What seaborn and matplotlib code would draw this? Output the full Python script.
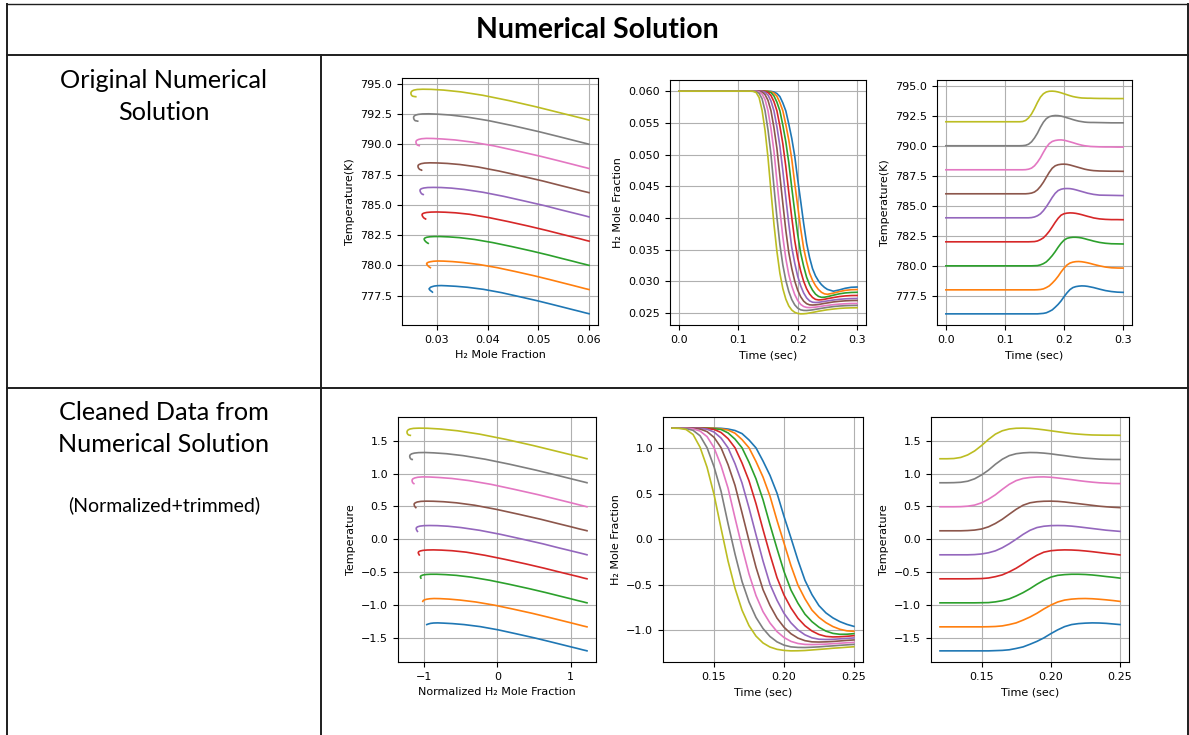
import numpy as np
import pandas as pd
import matplotlib
matplotlib.use("Agg")
import matplotlib.pyplot as plt
import seaborn as sns
from matplotlib.lines import Line2D

# ---------------- data ----------------
time_s = [0.0, 0.12, 0.125, 0.13, 0.135, 0.14, 0.145, 0.15, 0.155, 0.16, 0.165,
          0.17, 0.175, 0.18, 0.185, 0.19, 0.195, 0.20, 0.205, 0.21, 0.215, 0.22,
          0.225, 0.23, 0.235, 0.24, 0.245, 0.25, 0.26, 0.27, 0.28, 0.29, 0.30]

run_ids = ["run1", "run2", "run3", "run4", "run5", "run6", "run7", "run8", "run9"]

# normalized H2 mole fraction (as in the cleaned panels), one list per run
h2_norm_run1 = [1.22, 1.22, 1.22, 1.22, 1.22, 1.22, 1.22, 1.22, 1.218, 1.21, 1.194, 1.16, 1.09, 1.003,
                0.859, 0.701, 0.506, 0.251, 0.013, -0.232, -0.452, -0.609, -0.73, -0.81, -0.865,
                -0.906, -0.936, -0.958, -0.978, -0.964, -0.946, -0.935, -0.932]
h2_norm_run2 = [1.22, 1.22, 1.22, 1.22, 1.22, 1.22, 1.22, 1.219, 1.212, 1.199, 1.164, 1.094, 1.004,
                0.853, 0.683, 0.473, 0.207, -0.042, -0.291, -0.505, -0.655, -0.779, -0.859, -0.917,
                -0.96, -0.99, -1.007, -1.012, -0.999, -0.982, -0.969, -0.962, -0.96]
h2_norm_run3 = [1.22, 1.22, 1.22, 1.22, 1.22, 1.22, 1.219, 1.214, 1.205, 1.168, 1.099, 1.004, 0.845,
                0.663, 0.434, 0.159, -0.103, -0.354, -0.559, -0.704, -0.824, -0.906, -0.967, -1.01,
                -1.035, -1.045, -1.044, -1.038, -1.022, -1.007, -0.997, -0.992, -0.99]
h2_norm_run4 = [1.22, 1.22, 1.22, 1.22, 1.22, 1.22, 1.216, 1.206, 1.172, 1.105, 1.004, 0.837, 0.641,
                0.39, 0.106, -0.168, -0.422, -0.613, -0.756, -0.869, -0.951, -1.009, -1.047, -1.068,
                -1.074, -1.072, -1.067, -1.06, -1.048, -1.037, -1.03, -1.026, -1.025]
h2_norm_run5 = [1.22, 1.22, 1.22, 1.22, 1.22, 1.218, 1.208, 1.177, 1.111, 1.004, 0.829, 0.617, 0.343,
                0.048, -0.239, -0.495, -0.67, -0.814, -0.919, -0.997, -1.051, -1.084, -1.099, -1.102,
                -1.1, -1.095, -1.09, -1.085, -1.075, -1.067, -1.062, -1.059, -1.058]
h2_norm_run6 = [1.22, 1.22, 1.22, 1.22, 1.219, 1.21, 1.182, 1.119, 1.005, 0.819, 0.591, 0.29, -0.016,
                -0.309, -0.554, -0.728, -0.867, -0.967, -1.039, -1.087, -1.115, -1.128, -1.13, -1.128,
                -1.124, -1.118, -1.112, -1.107, -1.096, -1.089, -1.084, -1.081, -1.08]
h2_norm_run7 = [1.22, 1.22, 1.22, 1.219, 1.212, 1.188, 1.127, 1.005, 0.808, 0.561, 0.233, -0.086,
                -0.383, -0.62, -0.796, -0.921, -1.015, -1.08, -1.123, -1.146, -1.156, -1.158, -1.156,
                -1.153, -1.148, -1.143, -1.138, -1.134, -1.126, -1.12, -1.116, -1.113, -1.113]
h2_norm_run8 = [1.22, 1.22, 1.219, 1.215, 1.196, 1.136, 1.005, 0.795, 0.527, 0.171, -0.164, -0.465,
                -0.69, -0.86, -0.981, -1.069, -1.128, -1.164, -1.183, -1.189, -1.19, -1.187, -1.183,
                -1.177, -1.172, -1.166, -1.161, -1.156, -1.147, -1.141, -1.137, -1.135, -1.134]
h2_norm_run9 = [1.22, 1.22, 1.218, 1.205, 1.15, 1.01, 0.79, 0.49, 0.12, -0.24, -0.54, -0.78, -0.95,
                -1.065, -1.14, -1.185, -1.21, -1.222, -1.227, -1.226, -1.223, -1.217, -1.211, -1.205,
                -1.198, -1.193, -1.187, -1.182, -1.174, -1.167, -1.163, -1.161, -1.16]

# temperature in K, one list per run
temp_run1 = [776.0] * 9 + [776.02, 776.04, 776.09, 776.20, 776.33, 776.55, 776.79, 777.08, 777.43,
                           777.75, 778.02, 778.19, 778.27, 778.31, 778.33, 778.32, 778.29, 778.24,
                           778.19, 778.06, 777.94, 777.86, 777.81, 777.79]
temp_run2 = [778.0] * 8 + [778.01, 778.03, 778.08, 778.19, 778.33, 778.56, 778.82, 779.13, 779.49,
                           779.81, 780.07, 780.23, 780.31, 780.35, 780.36, 780.34, 780.30, 780.25,
                           780.19, 780.12, 780.00, 779.90, 779.84, 779.82, 779.81]
temp_run3 = [780.0] * 7 + [780.01, 780.02, 780.08, 780.18, 780.33, 780.57, 780.85, 781.18, 781.55,
                           781.88, 782.14, 782.29, 782.35, 782.38, 782.38, 782.36, 782.32, 782.26,
                           782.19, 782.13, 782.06, 781.95, 781.88, 781.84, 781.83, 781.82]
temp_run4 = [782.0] * 6 + [782.01, 782.02, 782.07, 782.18, 782.33, 782.58, 782.88, 783.24, 783.62,
                           783.96, 784.22, 784.34, 784.39, 784.41, 784.40, 784.37, 784.32, 784.26,
                           784.19, 784.12, 784.06, 783.99, 783.91, 783.87, 783.85, 783.85, 783.84]
temp_run5 = [784.0] * 6 + [784.02, 784.07, 784.17, 784.33, 784.59, 784.92, 785.30, 785.70, 786.04,
                           786.27, 786.38, 786.43, 786.44, 786.43, 786.39, 786.33, 786.26, 786.19,
                           786.12, 786.05, 786.00, 785.95, 785.89, 785.88, 785.87, 785.86, 785.85]
temp_run6 = [786.0] * 5 + [786.02, 786.06, 786.15, 786.33, 786.61, 786.96, 787.38, 787.79, 788.13,
                           788.33, 788.42, 788.46, 788.47, 788.45, 788.40, 788.33, 788.26, 788.19,
                           788.12, 788.05, 788.00, 787.96, 787.93, 787.90, 787.89, 787.88, 787.88,
                           787.87]
temp_run7 = [788.0] * 4 + [788.01, 788.05, 788.14, 788.33, 788.63, 789.00, 789.45, 789.87, 790.18,
                           790.36, 790.44, 790.48, 790.49, 790.46, 790.40, 790.33, 790.26, 790.18,
                           790.11, 790.05, 790.00, 789.97, 789.94, 789.93, 789.91, 789.90, 789.90,
                           789.89, 789.89]
temp_run8 = [790.0] * 3 + [790.01, 790.04, 790.13, 790.33, 790.65, 791.05, 791.54, 791.96, 792.26,
                           792.42, 792.49, 792.52, 792.51, 792.47, 792.41, 792.33, 792.26, 792.18,
                           792.11, 792.05, 792.01, 791.97, 791.95, 791.94, 791.94, 791.93, 791.92,
                           791.91, 791.91, 791.91]
temp_run9 = [792.0, 792.0, 792.0, 792.02, 792.11, 792.32, 792.65, 793.10, 793.61, 794.05, 794.33,
             794.48, 794.54, 794.55, 794.53, 794.48, 794.41, 794.33, 794.25, 794.17, 794.10, 794.05,
             794.01, 793.98, 793.97, 793.96, 793.96, 793.95, 793.94, 793.94, 793.93, 793.93, 793.93]

H2_MEAN, H2_STD = 0.0425, 0.01437
T_MEAN, T_STD = 785.28, 5.487
TRIM_START, TRIM_END = 0.12, 0.25

h2_lists = [h2_norm_run1, h2_norm_run2, h2_norm_run3, h2_norm_run4, h2_norm_run5,
            h2_norm_run6, h2_norm_run7, h2_norm_run8, h2_norm_run9]
temp_lists = [temp_run1, temp_run2, temp_run3, temp_run4, temp_run5,
              temp_run6, temp_run7, temp_run8, temp_run9]

rows = []
for rid, hl, tl in zip(run_ids, h2_lists, temp_lists):
    assert len(hl) == len(time_s) and len(tl) == len(time_s)
    for t, hz, tk in zip(time_s, hl, tl):
        rows.append({"run": rid, "time": t, "h2_norm": hz, "temp": tk})
df = pd.DataFrame(rows)
df["h2"] = H2_MEAN + H2_STD * df["h2_norm"]
df["temp_norm"] = (df["temp"] - T_MEAN) / T_STD
dft = df[(df["time"] >= TRIM_START - 1e-9) & (df["time"] <= TRIM_END + 1e-9)]

palette = sns.color_palette("tab10", 9)

# ---------------- figure / layout ----------------
W, H = 1189, 735
fig = plt.figure(figsize=(W / 100, H / 100), dpi=100)
fig.patch.set_facecolor("white")


def add_ax(l, r, t, b):
    return fig.add_axes([l / W, 1 - b / H, (r - l) / W, (b - t) / H])


def draw(ax, data, x, y, xlabel, ylabel):
    sns.lineplot(data=data, x=x, y=y, hue="run", hue_order=run_ids, palette=palette,
                 sort=False, estimator=None, legend=False, linewidth=1.2, ax=ax)
    ax.grid(True, color="#b0b0b0", linewidth=0.8)
    ax.set_axisbelow(True)
    ax.set_xlabel(xlabel, fontsize=8)
    ax.set_ylabel(ylabel, fontsize=8)
    ax.tick_params(labelsize=8, length=3.5, width=0.8)
    for s in ax.spines.values():
        s.set_linewidth(0.8)


ax1 = add_ax(402, 598, 78, 325)
draw(ax1, df, "h2", "temp", "H\u2082 Mole Fraction", "Temperature(K)")
ax2 = add_ax(670, 866, 80, 325)
draw(ax2, df, "time", "h2", "Time (sec)", "H\u2082 Mole Fraction")
ax3 = add_ax(937, 1132, 80, 325)
draw(ax3, df, "time", "temp", "Time (sec)", "Temperature(K)")

ax4 = add_ax(398, 596, 417, 662)
draw(ax4, dft, "h2_norm", "temp_norm", "Normalized H\u2082 Mole Fraction", "Temperature")
ax5 = add_ax(663, 863, 417, 662)
draw(ax5, dft, "time", "h2_norm", "Time (sec)", "H\u2082 Mole Fraction")
ax6 = add_ax(931, 1129, 417, 662)
draw(ax6, dft, "time", "temp_norm", "Time (sec)", "Temperature")

# ---------------- table frame ----------------
def hline(x0, x1, y, lw=1.4):
    fig.add_artist(Line2D([x0 / W, x1 / W], [1 - y / H, 1 - y / H], transform=fig.transFigure,
                          color="#1e1e1e", linewidth=lw))


def vline(x, y0, y1, lw=1.4):
    fig.add_artist(Line2D([x / W, x / W], [1 - y0 / H, 1 - y1 / H], transform=fig.transFigure,
                          color="#1e1e1e", linewidth=lw))


hline(7, 1188, 4, lw=1.0)
hline(7, 1188, 55)
hline(7, 1188, 388)
vline(7, 4, 735)
vline(1188, 4, 735)
vline(321, 55, 735)

txt_font = ["Lato", "DejaVu Sans"]
fig.text(597 / W, 1 - 30 / H, "Numerical Solution", ha="center", va="center",
         fontsize=20.5, fontweight="bold", family=txt_font)
fig.text(164 / W, 1 - 80 / H, "Original Numerical", ha="center", va="center",
         fontsize=18.2, family=txt_font)
fig.text(164 / W, 1 - 112 / H, "Solution", ha="center", va="center",
         fontsize=18.2, family=txt_font)
fig.text(164 / W, 1 - 412 / H, "Cleaned Data from", ha="center", va="center",
         fontsize=18.2, family=txt_font)
fig.text(164 / W, 1 - 445 / H, "Numerical Solution", ha="center", va="center",
         fontsize=18.2, family=txt_font)
fig.text(164 / W, 1 - 505 / H, "(Normalized+trimmed)", ha="center", va="center",
         fontsize=14, family=txt_font)

fig.savefig("out.png", dpi=100)
